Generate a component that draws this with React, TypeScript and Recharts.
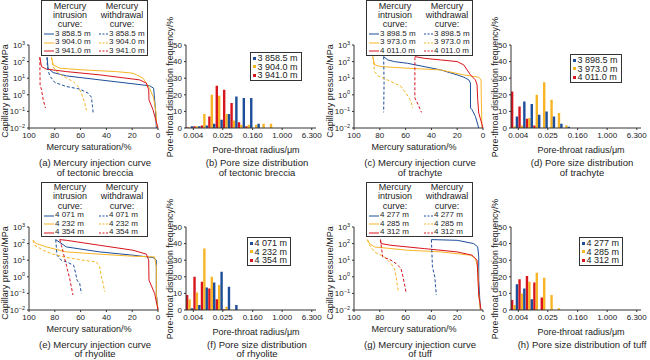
import React from "react";
import { LineChart, Line, BarChart, Bar, XAxis, YAxis } from "recharts";

const BLUE = "#1d4e9b";
const ORANGE = "#f7b526";
const RED = "#d8141c";
const INK = "#222";
const FONT = '"Liberation Sans", Arial, sans-serif';
const SERIES_COLORS = [BLUE, ORANGE, RED];

// axis ticks
const SAT_TICKS = [0, 20, 40, 60, 80, 100];
const PRESSURE_TICKS = [0.01, 0.1, 1, 10, 100, 1000];
const FREQ_TICKS = [0, 10, 20, 30, 40, 50];
const RADIUS_TICKS = [0.004, 0.025, 0.16, 1, 6.3];

// pore-throat radius bin centres (um)
const RADII = [0.00318, 0.00504, 0.008, 0.0127, 0.0201, 0.0318, 0.0504, 0.08, 0.127, 0.201, 0.318, 0.504];

// ---- tectonic breccia ----
const brecciaDepths = ["3 858.5 m", "3 904.0 m", "3 941.0 m"];
// [mercury saturation %, capillary pressure MPa]
const brecciaIn1 = [[1.3, 0.01], [1.8, 0.08], [2.6, 0.5], [3.4, 2.5], [6.5, 3.5], [19.4, 4.6], [45, 7.9], [71, 13.8], [81.3, 21.9], [85.2, 40], [86, 182]];
const brecciaIn2 = [[1, 0.0126], [1.5, 0.08], [3.4, 0.63], [6.5, 2.5], [11.6, 10], [19.4, 20], [32.3, 25], [58, 31.6], [76, 40], [81.3, 63], [82.6, 182]];
const brecciaIn3 = [[0, 0.01], [3.9, 0.126], [7, 0.5], [7.2, 2], [9, 5], [14.2, 7.9], [45, 15.8], [71, 25], [86.5, 35], [90.3, 50], [91.6, 182]];
const brecciaOut1 = [[86, 182], [85.7, 40], [83.9, 13.8], [80, 5.5], [71, 3.16], [60.6, 2.2], [54.2, 1.26], [51.6, 0.72], [50.8, 0.2], [50.3, 0.087]];
const brecciaOut2 = [[82.6, 182], [81.3, 50], [78.7, 25], [71, 10], [65.8, 6.3], [62, 3.2], [59.4, 1.26], [56.8, 0.32], [55.5, 0.115]];
const brecciaOut3 = [[91.6, 182], [91.4, 4], [90.3, 2], [89, 0.5], [87.2, 0.16]];
// frequency % per radius bin
const brecciaBlue = [1, 1, 1.5, 2.5, 5, 8.5, 19, 18, 18, 2.5, 0, 0];
const brecciaOrange = [0.3, 1, 8.5, 20, 19.5, 8.5, 4.5, 2, 2, 2, 2.5, 2.5];
const brecciaRed = [0.5, 1, 1.5, 7, 25.5, 23, 15, 3.5, 1, 0, 0, 0];

// ---- trachyte ----
const trachyteDepths = ["3 898.5 m", "3 973.0 m", "4 011.0 m"];
const trachyteIn1 = [[3.3, 0.01], [5.9, 0.05], [8.5, 0.126], [9.7, 0.16], [9.7, 5], [11, 7.9], [14.9, 11.5], [20, 15.8], [32.8, 31.6], [45.6, 50], [58.5, 79], [68.7, 100], [73.8, 126], [77, 200]];
const trachyteIn2 = [[0.8, 0.01], [1.3, 0.5], [1.5, 7.9], [3.3, 11.5], [14.9, 15.8], [32.8, 31.6], [58.5, 40], [79, 50], [84, 63], [85.4, 200]];
const trachyteIn3 = [[0, 0.01], [3.3, 0.08], [4.1, 0.5], [4.6, 4], [5.9, 7.9], [9.7, 15.8], [12.3, 31.6], [14.9, 63], [20, 100], [32.8, 126], [45.6, 158], [52.8, 200]];
const trachyteOut1 = [[77, 200], [76.7, 5], [77, 0.087]];
const trachyteOut2 = [[85.4, 200], [84.1, 25], [81.5, 13.8], [71.3, 6.3], [63.6, 3.2], [59.7, 1.26], [57.2, 0.63], [55.4, 0.32], [54.6, 0.16]];
const trachyteOut3 = [[52.8, 182], [52.8, 0.63], [50.8, 0.32], [47.7, 0.087]];
const trachyteBlue = [7, 16, 14.5, 8, 10, 7, 2.5, 0.8, 0, 0, 0, 0];
const trachyteOrange = [1, 1.5, 6, 20, 27.5, 17, 9, 1.5, 0, 0, 0, 0];
const trachyteRed = [22, 13, 5.5, 1.5, 0, 0, 0, 0, 0, 0, 0, 0];

// ---- rhyolite ----
const rhyoliteDepths = ["4 071 m", "4 232 m", "4 354 m"];
const rhyoliteIn1 = [[0, 0.01], [1.3, 0.1], [1.3, 10], [3.9, 14.5], [19.4, 20], [45.2, 31.6], [71, 63], [79.3, 174]];
const rhyoliteIn2 = [[0, 0.01], [1.3, 0.08], [1.3, 4], [2.6, 15.8], [19.4, 17.4], [45.2, 23], [71, 31.6], [86.6, 63], [94.3, 100], [96.9, 158]];
const rhyoliteIn3 = [[0, 0.01], [2.6, 0.1], [7, 0.63], [7.2, 10], [9, 23], [19.4, 40], [45.2, 79], [71, 158], [76.2, 174]];
const rhyoliteOut1 = [[79.3, 174], [78.3, 20], [75, 10], [71, 7.9], [65.4, 5], [63.8, 1.58], [62.8, 0.63], [60.7, 0.4], [59.4, 0.1]];
const rhyoliteOut2 = [[96.9, 158], [95.6, 79], [89.1, 40], [81.4, 23], [71, 14.5], [58.1, 10], [47.8, 7.9], [45.2, 4], [43.9, 1], [42.6, 0.4], [41.3, 0.126]];
const rhyoliteOut3 = [[76.2, 174], [74.9, 79], [73.6, 31.6], [71, 5], [69.8, 2], [68.5, 0.8], [67.2, 0.25], [65.9, 0.08]];
const rhyoliteBlue = [1, 3, 13.5, 16.5, 23, 14, 3, 0, 0, 0, 0, 0];
const rhyoliteOrange = [6.5, 10.5, 37, 20, 15, 2, 0, 0, 0, 0, 0, 0];
const rhyoliteRed = [9, 20, 17, 13, 6.5, 0.5, 0, 0, 0, 0, 0, 0];

// ---- tuff ----
const tuffDepths = ["4 277 m", "4 285 m", "4 312 m"];
const tuffIn1 = [[2.1, 0.0126], [3.3, 0.63], [3.3, 15.8], [4.1, 63], [7.2, 100], [20, 158], [40, 174]];
const tuffIn2 = [[2.1, 0.01], [3.3, 0.1], [4.1, 4], [5.9, 12.6], [9.7, 20], [32.8, 31.6], [58.5, 40], [84.1, 63], [87.9, 100], [89.7, 174]];
const tuffIn3 = [[1.5, 0.01], [3.3, 0.08], [4.1, 1.58], [4.6, 10], [8.5, 20], [20, 31.6], [45.6, 50], [71.3, 79], [79, 100], [79.5, 174]];
const tuffOut1 = [[40, 174], [39.2, 4], [37.4, 1], [36.7, 0.25], [36.2, 0.08]];
const tuffOut2 = [[89.7, 174], [87.9, 79], [84.1, 31.6], [76.4, 15.8], [71.3, 6.3], [68.7, 3.2], [67.4, 1], [66.2, 0.25], [65.6, 0.126]];
const tuffOut3 = [[79.5, 174], [78.5, 40], [77.7, 15.8], [71.3, 10], [67.4, 6.3], [63.6, 3.2], [62.3, 1.26], [61, 0.4], [59.7, 0.126]];
const tuffBlue = [15.5, 13, 6.5, 0, 0, 0, 0, 0, 0, 0, 0, 0];
const tuffOrange = [3, 10, 17, 22.5, 19.5, 9, 1, 0, 0, 0, 0, 0];
const tuffRed = [6, 18.5, 20.5, 16.5, 7.5, 0, 0, 0, 0, 0, 0, 0];

const pts = (arr: number[][]) => arr.map(([s, p]) => ({ s, p }));

const txt = (left: number, top: number, size: number, rotate = false, lh?: number): React.CSSProperties => ({
  position: "absolute",
  left,
  top,
  fontSize: size,
  whiteSpace: "nowrap",
  lineHeight: lh ? lh + "px" : 1,
  transform: rotate ? "translate(-50%,-50%) rotate(-90deg)" : "translate(-50%,-50%)",
});

const PowTick = (props: any) => {
  const { x, y, payload } = props;
  const e = Math.round(Math.log10(payload.value));
  return (
    <text x={x} y={y} dy={3} textAnchor="end" fontSize={8} fill={INK} fontFamily={FONT}>
      <tspan>10</tspan>
      <tspan dy={-3.5} fontSize={5.5}>{e < 0 ? "\u2212" + -e : e}</tspan>
    </text>
  );
};

const tickStyle = { fontSize: 8, fill: INK, fontFamily: FONT };

function InjectionChart({ left, top, depths, intrusion, withdrawal, caption }: any) {
  return (
    <div style={{ position: "absolute", left, top, width: 162, height: 180 }}>
      <LineChart width={162} height={180} margin={{ top: 45, right: 4, bottom: 40, left: 0 }}>
        <XAxis type="number" dataKey="s" domain={[0, 100]} ticks={SAT_TICKS} reversed height={12}
          tickSize={2} tick={tickStyle} stroke="#333" interval={0} />
        <YAxis type="number" scale="log" domain={[0.01, 1000]} ticks={PRESSURE_TICKS} allowDataOverflow
          width={29} tickSize={2} tick={<PowTick />} stroke="#333" interval={0} />
        {intrusion.map((c: number[][], i: number) => (
          <Line key={"in" + i} data={pts(c)} dataKey="p" type="linear" stroke={SERIES_COLORS[i]}
            strokeWidth={1} dot={false} isAnimationActive={false} />
        ))}
        {withdrawal.map((c: number[][], i: number) => (
          <Line key={"out" + i} data={pts(c)} dataKey="p" type="linear" stroke={SERIES_COLORS[i]}
            strokeWidth={1} strokeDasharray="3 2" dot={false} isAnimationActive={false} />
        ))}
      </LineChart>
      <div style={txt(5, 91, 9, true)}>Capillary pressure/MPa</div>
      <div style={txt(89, 147, 9)}>Mercury saturation/%</div>
      <div style={txt(95, 163, 9.5, false, 9.4)}>{caption[0]}</div>
      <div style={txt(95, 172.5, 9.5, false, 9.4)}>{caption[1]}</div>
      <div style={{ position: "absolute", left: 41, top: 0, width: 107, height: 55.5, border: "1px solid #333",
        boxSizing: "border-box", background: "#fff", fontSize: 8 }}>
        {["Mercury", "intrusion", "curve:"].map((t, i) => (
          <div key={"l" + i} style={txt(28, 5.5 + i * 9.3, 9, false, 9.3)}>{t}</div>
        ))}
        {["Mercury", "withdrawal", "curve:"].map((t, i) => (
          <div key={"r" + i} style={txt(80, 5.5 + i * 9.3, 9, false, 9.3)}>{t}</div>
        ))}
        {depths.map((d: string, i: number) => (
          <React.Fragment key={d}>
            <svg style={{ position: "absolute", left: 2, top: 30 + i * 8.6 }} width={10} height={6}>
              <line x1={0} y1={3} x2={10} y2={3} stroke={SERIES_COLORS[i]} strokeWidth={1} />
            </svg>
            <div style={{ position: "absolute", left: 13, top: 28.7 + i * 8.6, lineHeight: "8.6px" }}>{d}</div>
            <svg style={{ position: "absolute", left: 57, top: 30 + i * 8.6 }} width={9} height={6}>
              <line x1={0} y1={3} x2={9} y2={3} stroke={SERIES_COLORS[i]} strokeWidth={1} strokeDasharray="2 1.5" />
            </svg>
            <div style={{ position: "absolute", left: 67, top: 28.7 + i * 8.6, lineHeight: "8.6px" }}>{d}</div>
          </React.Fragment>
        ))}
      </div>
    </div>
  );
}

function PoreChart({ left, top, depths, blue, orange, red, caption, legendLeft, legendTop }: any) {
  const rows = RADII.map((r, i) => ({ r, blue: blue[i], orange: orange[i], red: red[i] }));
  return (
    <div style={{ position: "absolute", left, top, width: 165, height: 180 }}>
      <BarChart width={165} height={180} data={rows} margin={{ top: 45, right: 9, bottom: 40, left: 0 }}
        barGap={0} barCategoryGap={0}>
        <XAxis type="number" dataKey="r" scale="log" domain={[0.00254, 8.2]} allowDataOverflow
          ticks={RADIUS_TICKS} tickFormatter={(v: number) => v.toFixed(3)} height={12} tickSize={2}
          tick={tickStyle} stroke="#333" interval={0} />
        <YAxis type="number" domain={[0, 50]} ticks={FREQ_TICKS} width={26} tickSize={2}
          tick={tickStyle} stroke="#333" interval={0} />
        <Bar dataKey="red" fill={RED} barSize={2.4} isAnimationActive={false} />
        <Bar dataKey="orange" fill={ORANGE} barSize={2.4} isAnimationActive={false} />
        <Bar dataKey="blue" fill={BLUE} barSize={2.4} isAnimationActive={false} />
      </BarChart>
      <div style={txt(10, 87, 8.8, true)}>Pore-throat distribution frequency/%</div>
      <div style={txt(96, 150, 9)}>Pore-throat radius/μm</div>
      {caption.map((c: string, i: number) => (
        <div key={c} style={txt(97, 163 + i * 9.5, 9.5, false, 9.4)}>{c}</div>
      ))}
      <div style={{ position: "absolute", left: legendLeft, top: legendTop, height: 29.5, padding: "0 3px 0 2px",
        border: "1px solid #333", boxSizing: "border-box", background: "#fff", fontSize: 9 }}>
        {depths.map((d: string, i: number) => (
          <div key={d} style={{ display: "flex", alignItems: "center", height: 8.6, marginTop: i === 0 ? 1.5 : 0 }}>
            <span style={{ width: 2.5, height: 3, background: SERIES_COLORS[i], marginRight: 2 }} />
            <span style={{ lineHeight: "8.6px" }}>{d}</span>
          </div>
        ))}
      </div>
    </div>
  );
}

export default function App() {
  const LOW = 181.5;
  return (
    <div style={{ position: "absolute", left: 0, top: 0, width: 650, height: 360, background: "#fff",
      fontFamily: FONT, color: INK, overflow: "hidden" }}>
      <InjectionChart left={0} top={0} depths={brecciaDepths}
        intrusion={[brecciaIn1, brecciaIn2, brecciaIn3]} withdrawal={[brecciaOut1, brecciaOut2, brecciaOut3]}
        caption={["(a) Mercury injection curve", "of tectonic breccia"]} />
      <PoreChart left={160} top={0} depths={brecciaDepths} blue={brecciaBlue} orange={brecciaOrange} red={brecciaRed}
        caption={["(b) Pore size distribution", "of tectonic breccia"]} legendLeft={90} legendTop={51.5} />
      <InjectionChart left={325} top={0} depths={trachyteDepths}
        intrusion={[trachyteIn1, trachyteIn2, trachyteIn3]} withdrawal={[trachyteOut1, trachyteOut2, trachyteOut3]}
        caption={["(c) Mercury injection curve", "of trachyte"]} />
      <PoreChart left={485} top={0} depths={trachyteDepths} blue={trachyteBlue} orange={trachyteOrange} red={trachyteRed}
        caption={["(d) Pore size distribution", "of trachyte"]} legendLeft={85} legendTop={53.5} />
      <InjectionChart left={0} top={LOW} depths={rhyoliteDepths}
        intrusion={[rhyoliteIn1, rhyoliteIn2, rhyoliteIn3]} withdrawal={[rhyoliteOut1, rhyoliteOut2, rhyoliteOut3]}
        caption={["(e) Mercury injection curve", "of rhyolite"]} />
      <PoreChart left={160} top={LOW} depths={rhyoliteDepths} blue={rhyoliteBlue} orange={rhyoliteOrange} red={rhyoliteRed}
        caption={["(f) Pore size distribution", "of rhyolite"]} legendLeft={87} legendTop={55} />
      <InjectionChart left={325} top={LOW} depths={tuffDepths}
        intrusion={[tuffIn1, tuffIn2, tuffIn3]} withdrawal={[tuffOut1, tuffOut2, tuffOut3]}
        caption={["(g) Mercury injection curve", "of tuff"]} />
      <PoreChart left={485} top={LOW} depths={tuffDepths} blue={tuffBlue} orange={tuffOrange} red={tuffRed}
        caption={["(h) Pore size distribution of tuff"]} legendLeft={94} legendTop={55} />
    </div>
  );
}
